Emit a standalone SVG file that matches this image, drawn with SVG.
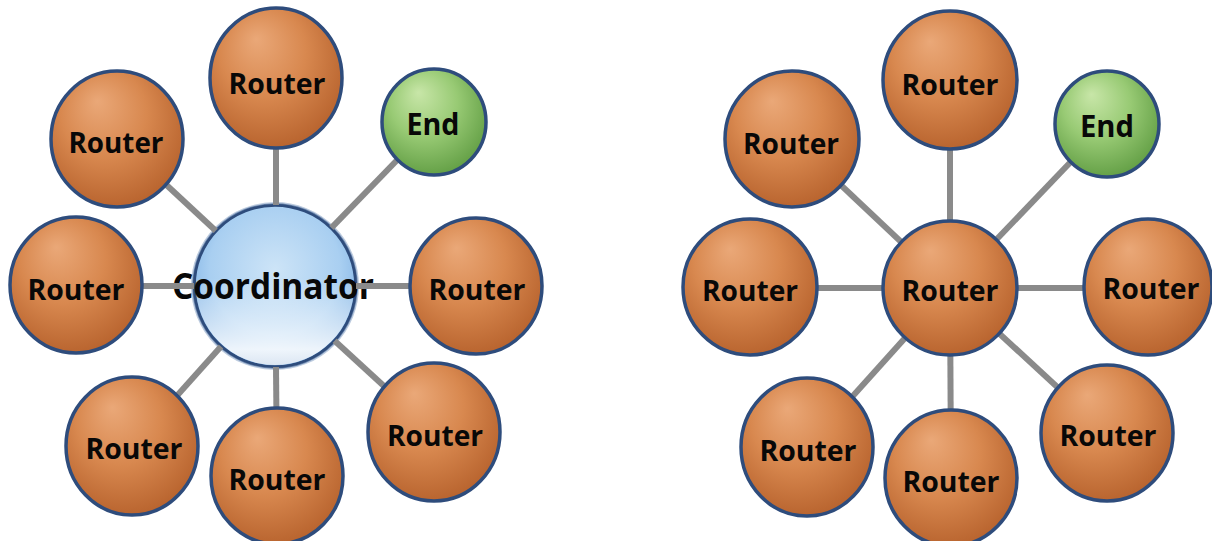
<svg xmlns="http://www.w3.org/2000/svg" width="1212" height="541" viewBox="0 0 1212 541">
<defs>
<radialGradient id="gRouter" cx="45%" cy="40%" r="65%" fx="35%" fy="22%">
<stop offset="0" stop-color="#eaa878"/>
<stop offset="0.5" stop-color="#d8884f"/>
<stop offset="1" stop-color="#b5602b"/>
</radialGradient>
<radialGradient id="gEnd" cx="45%" cy="40%" r="65%" fx="35%" fy="22%">
<stop offset="0" stop-color="#c8e6a8"/>
<stop offset="0.5" stop-color="#98ca74"/>
<stop offset="1" stop-color="#5e9b41"/>
</radialGradient>
<radialGradient id="gCoord" cx="50%" cy="40%" r="62%">
<stop offset="0" stop-color="#cde4f7"/>
<stop offset="0.65" stop-color="#a9cff1"/>
<stop offset="1" stop-color="#79ade2"/>
</radialGradient>
<linearGradient id="gCoordShine" x1="0" y1="0" x2="0" y2="1">
<stop offset="0.45" stop-color="#ffffff" stop-opacity="0"/>
<stop offset="0.9" stop-color="#ffffff" stop-opacity="0.85"/>
<stop offset="1" stop-color="#e6ecf4" stop-opacity="0.9"/>
</linearGradient>
</defs>
<style>
.router{fill:url(#gRouter);stroke:#2e4c7c;stroke-width:3.5}
.end{fill:url(#gEnd);stroke:#2e4c7c;stroke-width:3.5}
.coord{fill:url(#gCoord);stroke:#2e4c7c;stroke-width:3.5}
.halo{fill:none;stroke:#8fa9c9;stroke-width:2;opacity:0.6}
.lbl{font-family:"Open Sans","Liberation Sans",sans-serif;font-weight:700;fill:#080808;text-anchor:middle}
.r{font-size:28px}
.e{font-size:30px}
.c{font-size:35px}
.link{stroke:#8a8a8a;stroke-width:6;stroke-linecap:butt;fill:none}
</style>
<rect width="1212" height="541" fill="#ffffff"/>

<!-- Left diagram: coordinator (drawn before connectors) -->
<g id="coordinator">
<circle cx="275" cy="286" r="81" class="coord"/>
<circle cx="275" cy="286" r="79" fill="url(#gCoordShine)"/>
<circle cx="275" cy="286" r="83" class="halo"/>
<text x="273" y="299" class="lbl c" textLength="202" lengthAdjust="spacingAndGlyphs">Coordinator</text>
</g>

<g id="connectors">
<line class="link" x1="215.7" y1="230.8" x2="117" y2="139"/>
<line class="link" x1="276" y1="205" x2="276" y2="79"/>
<line class="link" x1="331.4" y1="227.8" x2="434" y2="122"/>
<line class="link" x1="194" y1="286" x2="76" y2="286"/>
<line class="link" x1="356" y1="286" x2="476" y2="286"/>
<line class="link" x1="221" y1="346.4" x2="132" y2="446"/>
<line class="link" x1="276" y1="367" x2="277" y2="476"/>
<line class="link" x1="334.6" y1="340.8" x2="434" y2="432"/>

<line class="link" x1="950" y1="288" x2="792" y2="139"/>
<line class="link" x1="950" y1="288" x2="950" y2="80"/>
<line class="link" x1="950" y1="288" x2="1107" y2="124"/>
<line class="link" x1="950" y1="288" x2="750" y2="288"/>
<line class="link" x1="950" y1="288" x2="1151" y2="288"/>
<line class="link" x1="950" y1="288" x2="807" y2="447"/>
<line class="link" x1="950" y1="288" x2="951" y2="478"/>
<line class="link" x1="950" y1="288" x2="1107" y2="433"/>
</g>

<!-- Left diagram nodes -->
<g id="l-router-tl"><ellipse cx="117" cy="139" rx="66" ry="68" class="router"/><text x="116" y="153" class="lbl r" textLength="95" lengthAdjust="spacingAndGlyphs">Router</text></g>
<g id="l-router-top"><ellipse cx="276" cy="78" rx="66" ry="70" class="router"/><text x="277" y="94" class="lbl r" textLength="97" lengthAdjust="spacingAndGlyphs">Router</text></g>
<g id="l-end"><ellipse cx="434" cy="122" rx="52" ry="53" class="end"/><text x="433" y="135" class="lbl e" textLength="53" lengthAdjust="spacingAndGlyphs">End</text></g>
<g id="l-router-left"><ellipse cx="76" cy="285" rx="66" ry="68" class="router"/><text x="76" y="300" class="lbl r" textLength="97" lengthAdjust="spacingAndGlyphs">Router</text></g>
<g id="l-router-right"><ellipse cx="476" cy="286" rx="66" ry="68" class="router"/><text x="477" y="300" class="lbl r" textLength="97" lengthAdjust="spacingAndGlyphs">Router</text></g>
<g id="l-router-bl"><ellipse cx="132" cy="446" rx="66" ry="69" class="router"/><text x="134" y="459" class="lbl r" textLength="97" lengthAdjust="spacingAndGlyphs">Router</text></g>
<g id="l-router-bottom"><ellipse cx="277" cy="476" rx="66" ry="68" class="router"/><text x="277" y="490" class="lbl r" textLength="97" lengthAdjust="spacingAndGlyphs">Router</text></g>
<g id="l-router-br"><ellipse cx="434" cy="432" rx="66" ry="69" class="router"/><text x="435" y="446" class="lbl r" textLength="96" lengthAdjust="spacingAndGlyphs">Router</text></g>

<!-- Right diagram nodes -->
<g id="r-router-center"><ellipse cx="950" cy="288" rx="67" ry="67" class="router"/><text x="950" y="301" class="lbl r" textLength="97" lengthAdjust="spacingAndGlyphs">Router</text></g>
<g id="r-router-tl"><ellipse cx="792" cy="139" rx="67" ry="68" class="router"/><text x="791" y="154" class="lbl r" textLength="96" lengthAdjust="spacingAndGlyphs">Router</text></g>
<g id="r-router-top"><ellipse cx="950" cy="80" rx="67" ry="69" class="router"/><text x="950" y="95" class="lbl r" textLength="97" lengthAdjust="spacingAndGlyphs">Router</text></g>
<g id="r-end"><ellipse cx="1107" cy="124" rx="52" ry="53" class="end"/><text x="1107" y="137" class="lbl e" textLength="54" lengthAdjust="spacingAndGlyphs">End</text></g>
<g id="r-router-left"><ellipse cx="750" cy="287" rx="67" ry="68" class="router"/><text x="750" y="301" class="lbl r" textLength="96" lengthAdjust="spacingAndGlyphs">Router</text></g>
<g id="r-router-right"><ellipse cx="1148" cy="287" rx="64" ry="68" class="router"/><text x="1151" y="299" class="lbl r" textLength="97" lengthAdjust="spacingAndGlyphs">Router</text></g>
<g id="r-router-bl"><ellipse cx="807" cy="447" rx="66" ry="69" class="router"/><text x="808" y="461" class="lbl r" textLength="97" lengthAdjust="spacingAndGlyphs">Router</text></g>
<g id="r-router-bottom"><ellipse cx="951" cy="478" rx="66" ry="68" class="router"/><text x="951" y="492" class="lbl r" textLength="97" lengthAdjust="spacingAndGlyphs">Router</text></g>
<g id="r-router-br"><ellipse cx="1107" cy="433" rx="66" ry="68" class="router"/><text x="1108" y="446" class="lbl r" textLength="97" lengthAdjust="spacingAndGlyphs">Router</text></g>
</svg>
